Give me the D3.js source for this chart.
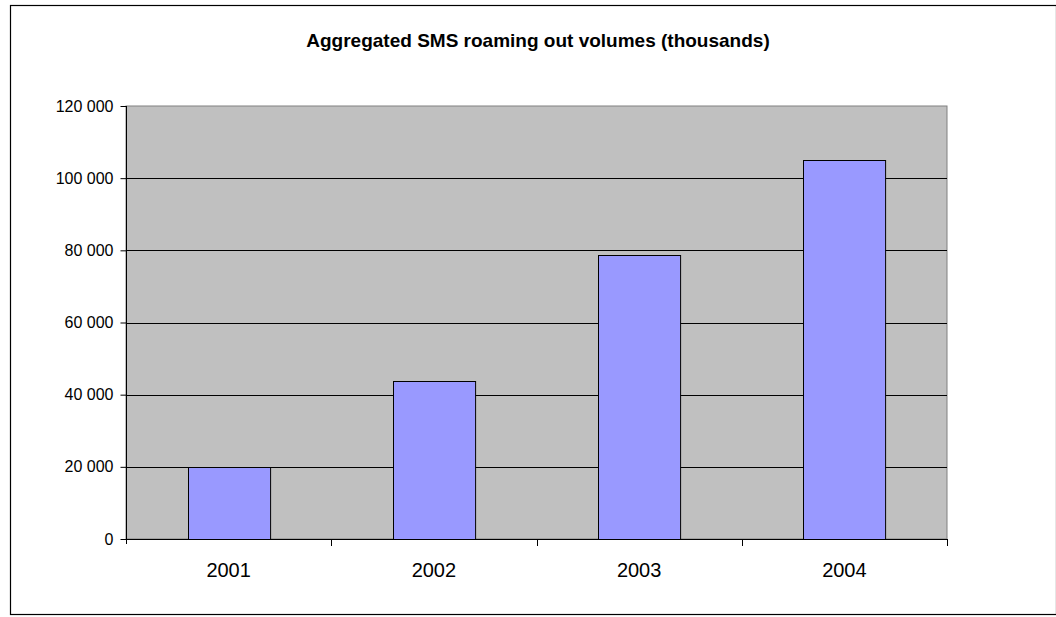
<!DOCTYPE html>
<html>
<head>
<meta charset="utf-8">
<script src="https://cdn.jsdelivr.net/npm/d3@7"></script>
<style>
  html, body { margin: 0; padding: 0; background: #fff; }
  svg { display: block; }
</style>
</head>
<body>
<svg id="chart" width="1056" height="617"></svg>
<script>
const years = ["2001", "2002", "2003", "2004"];
const volumes = [20000, 43800, 78600, 104900];
const yTicks = [0, 20000, 40000, 60000, 80000, 100000, 120000];
const title = "Aggregated SMS roaming out volumes (thousands)";

const svg = d3.select("#chart");
const W = 1056, H = 617;
const plot = { left: 126, right: 947, top: 106, bottom: 539 };
const FONT = "Liberation Sans, Arial, sans-serif";

// outer chart frame
svg.append("rect")
  .attr("x", 10.5).attr("y", 5.5)
  .attr("width", W - 10).attr("height", 609)
  .attr("fill", "#fff").attr("stroke", "#000").attr("stroke-width", 1.2);

const xBand = d3.scaleBand().domain(years).range([plot.left, plot.right]);
const y = d3.scaleLinear().domain([0, 120000]).range([plot.bottom, plot.top]);

// plot background
svg.append("rect")
  .attr("x", plot.left).attr("y", plot.top)
  .attr("width", plot.right - plot.left).attr("height", plot.bottom - plot.top)
  .attr("fill", "#c0c0c0").attr("stroke", "#808080").attr("stroke-width", 1);

// gridlines
svg.append("g").selectAll("line")
  .data(yTicks.filter(d => d > 0 && d < 120000))
  .join("line")
  .attr("x1", plot.left).attr("x2", plot.right)
  .attr("y1", d => Math.round(y(d)) + 0.5).attr("y2", d => Math.round(y(d)) + 0.5)
  .attr("stroke", "#000").attr("stroke-width", 1);

// bars (gap width 150% of bar width)
svg.append("g").selectAll("rect")
  .data(volumes)
  .join("rect")
  .attr("x", (d, i) => Math.round(xBand(years[i]) + xBand.bandwidth() * 0.3) + 0.5)
  .attr("width", xBand.bandwidth() * 0.4)
  .attr("y", d => Math.round(y(d)) + 0.5)
  .attr("height", d => y(0) - Math.round(y(d)))
  .attr("fill", "#9999ff").attr("stroke", "#000").attr("stroke-width", 1);

const fmt = v => d3.format(",")(v).replace(/,/g, " ");

// y axis
const yAxis = svg.append("g")
  .attr("transform", `translate(${plot.left + 0.5},0)`)
  .call(d3.axisLeft(y).tickValues(yTicks).tickFormat(fmt).tickSize(6).tickSizeOuter(0).tickPadding(7));
yAxis.select(".domain").attr("stroke", "#000").attr("d", `M0,${plot.top}V${plot.bottom + 5}`);
yAxis.selectAll(".tick line").attr("stroke", "#000");
yAxis.selectAll(".tick text")
  .attr("font-family", FONT)
  .attr("font-size", 16).attr("fill", "#000");

// x axis
const xAxis = svg.append("g")
  .attr("transform", `translate(0,${plot.bottom + 0.5})`)
  .call(d3.axisBottom(xBand).tickSize(0));
xAxis.select(".domain").attr("stroke", "#000").attr("d", `M${plot.left},0H${plot.right}`);
xAxis.selectAll(".tick text")
  .attr("y", 37.5).attr("dy", null)
  .attr("font-family", FONT)
  .attr("font-size", 20).attr("fill", "#000");

// category boundary ticks
const bounds = years.slice(1).map(c => xBand(c)).concat([plot.right]);
svg.append("g").selectAll("line")
  .data(bounds)
  .join("line")
  .attr("x1", d => Math.round(d) + 0.5).attr("x2", d => Math.round(d) + 0.5)
  .attr("y1", plot.bottom).attr("y2", plot.bottom + 7)
  .attr("stroke", "#000");

// title
svg.append("text")
  .attr("x", 538).attr("y", 47)
  .attr("text-anchor", "middle")
  .attr("font-family", FONT)
  .attr("font-weight", "bold").attr("font-size", 19)
  .text(title);
</script>
</body>
</html>
